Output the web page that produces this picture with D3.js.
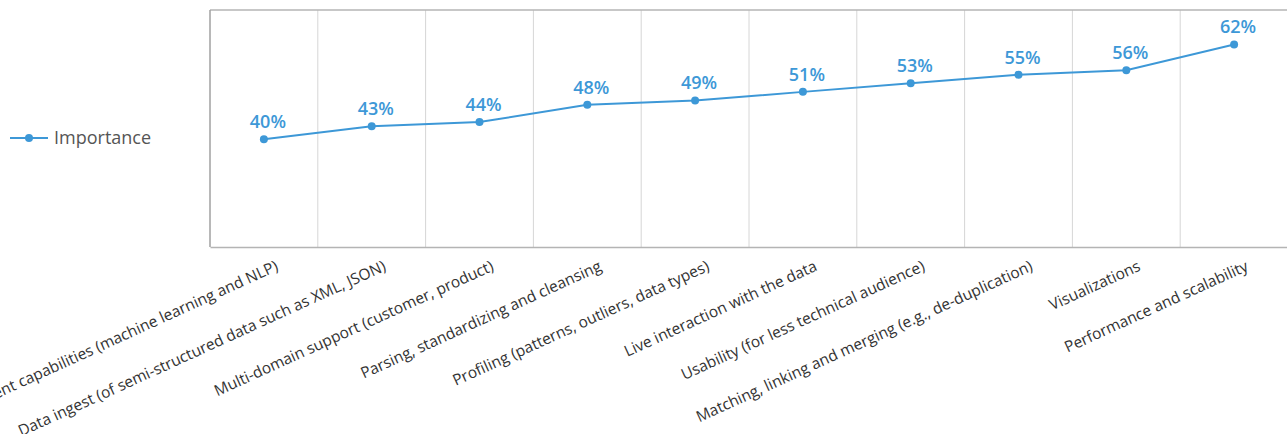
<!DOCTYPE html>
<html>
<head>
<meta charset="utf-8">
<script src="https://cdn.jsdelivr.net/npm/d3@7"></script>
<style>
  body { margin: 0; background: #fff; }
  svg { display: block; font-family: "Open Sans", sans-serif; }
</style>
</head>
<body>
<svg id="drawing_region"></svg>
<script>
const categories = [
    "Enrichment capabilities (machine learning and NLP)",
    "Data ingest (of semi-structured data such as XML, JSON)",
    "Multi-domain support (customer, product)",
    "Parsing, standardizing and cleansing",
    "Profiling (patterns, outliers, data types)",
    "Live interaction with the data",
    "Usability (for less technical audience)",
    "Matching, linking and merging (e.g., de-duplication)",
    "Visualizations",
    "Performance and scalability"
];
const importance = [40, 43, 44, 48, 49, 51, 53, 55, 56, 62];
const seriesName = "Importance";

const config = {
    width: 1287,
    height: 434,
    margin: { top: 10, right: -1, bottom: 187, left: 210 }
};
const color = '#3d98d7';

const svg = d3.select('#drawing_region')
    .attr('width', config.width)
    .attr('height', config.height);

const inner_width = config.width - config.margin.left - config.margin.right;
const inner_height = config.height - config.margin.top - config.margin.bottom;

const chart = svg.append('g')
    .attr('transform', `translate(${config.margin.left}, ${config.margin.top})`);

const xscale = d3.scaleBand()
    .domain(categories)
    .range([0, inner_width]);

const yscale = d3.scaleLinear()
    .domain([15, 70])
    .range([inner_height, 0]);

// vertical grid lines between categories
chart.selectAll('.grid')
    .data(categories.slice(1))
    .enter()
    .append('line')
    .attr('x1', d => xscale(d))
    .attr('x2', d => xscale(d))
    .attr('y1', 0)
    .attr('y2', inner_height)
    .attr('stroke', '#d6d6d6')
    .attr('stroke-width', 1);

// frame
chart.append('line')
    .attr('x1', 0).attr('x2', inner_width)
    .attr('y1', 0).attr('y2', 0)
    .attr('stroke', '#b4b4b4').attr('stroke-width', 1.5);
chart.append('line')
    .attr('x1', 0).attr('x2', 0)
    .attr('y1', 0).attr('y2', inner_height)
    .attr('stroke', '#a0a0a0').attr('stroke-width', 1.5);

// x axis
const xaxis = d3.axisBottom(xscale).tickSize(0).tickPadding(0);
const xg = chart.append('g')
    .attr('transform', `translate(0, ${inner_height})`)
    .call(xaxis);
xg.select('.domain').attr('stroke', '#b4b4b4').attr('stroke-width', 1.5);
xg.selectAll('text')
    .attr('font-family', '"Open Sans", sans-serif')
    .attr('font-size', 15.5)
    .attr('fill', '#333')
    .attr('text-anchor', 'end')
    .attr('dy', '0.35em')
    .attr('transform', 'translate(13, 18) rotate(-24.5)');

// line
const line = d3.line()
    .x((d, i) => xscale(categories[i]) + xscale.bandwidth() / 2)
    .y(d => yscale(d));

chart.append('path')
    .datum(importance)
    .attr('d', line)
    .attr('fill', 'none')
    .attr('stroke', color)
    .attr('stroke-width', 2);

chart.selectAll('.dot')
    .data(importance)
    .enter()
    .append('circle')
    .attr('cx', (d, i) => xscale(categories[i]) + xscale.bandwidth() / 2)
    .attr('cy', d => yscale(d))
    .attr('r', 4)
    .attr('fill', color);

chart.selectAll('.vlabel')
    .data(importance)
    .enter()
    .append('text')
    .attr('x', (d, i) => xscale(categories[i]) + xscale.bandwidth() / 2 + 4)
    .attr('y', d => yscale(d) - 11)
    .attr('text-anchor', 'middle')
    .attr('font-size', 18)
    .attr('font-weight', 600)
    .attr('fill', color)
    .text(d => d + '%');

// legend
const legend = svg.append('g').attr('transform', 'translate(10, 138)');
legend.append('line')
    .attr('x1', 0).attr('x2', 38)
    .attr('stroke', color).attr('stroke-width', 2);
legend.append('circle')
    .attr('cx', 19).attr('r', 4).attr('fill', color);
legend.append('text')
    .attr('x', 44)
    .attr('dy', '0.35em')
    .attr('font-size', 18)
    .attr('fill', '#555')
    .text(seriesName);
</script>
</body>
</html>
